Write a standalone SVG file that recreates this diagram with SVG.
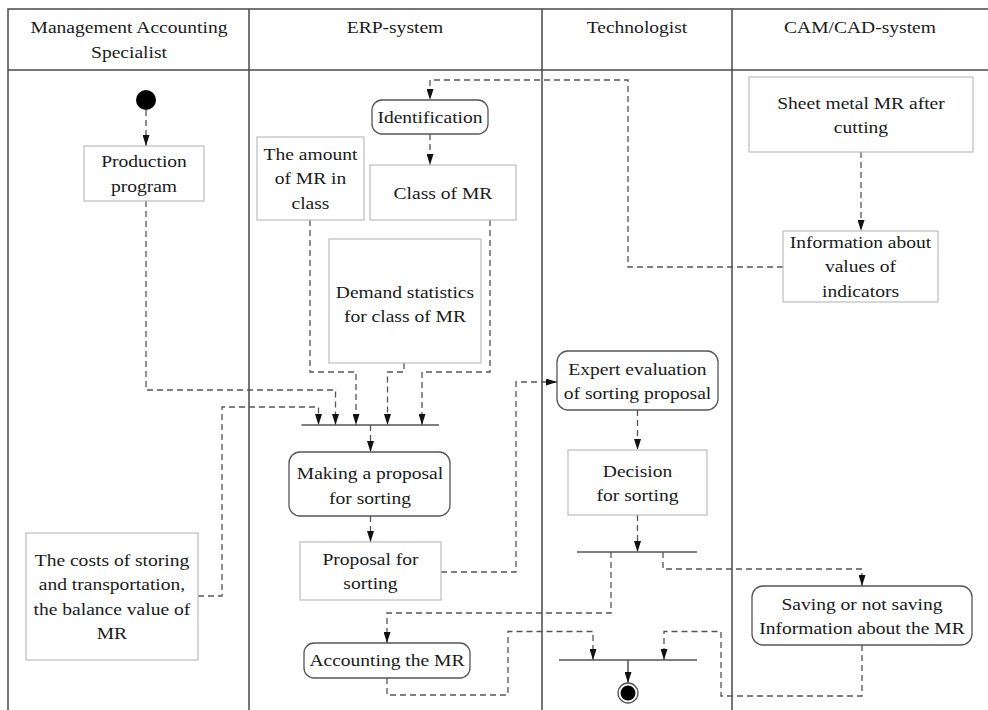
<svg xmlns="http://www.w3.org/2000/svg" width="988" height="710" viewBox="0 0 988 710">
<style>
text{font-family:"Liberation Serif","Times New Roman",serif;font-size:17px;fill:#1a1a1a;text-anchor:middle;transform-box:fill-box;transform-origin:center;transform:scaleX(1.15)}
.lane{stroke:#4a4a4a;stroke-width:1.5;fill:none}
.data{fill:#fff;stroke:#bdbdbd;stroke-width:1.2}
.act{fill:#fff;stroke:#555;stroke-width:1.3}
.dash{fill:none;stroke:#555;stroke-width:1.3;stroke-dasharray:6 4;marker-end:url(#arr)}
.dashn{fill:none;stroke:#555;stroke-width:1.3;stroke-dasharray:6 4}
.solid{fill:none;stroke:#333;stroke-width:1.3;marker-end:url(#arr)}
.bar{stroke:#555;stroke-width:1.6;fill:none}
</style>
<defs>
<marker id="arr" viewBox="0 0 11 7" refX="11" refY="3.5" markerWidth="11" markerHeight="7" markerUnits="userSpaceOnUse" orient="auto">
<path d="M0,0 L11,3.5 L0,7 z" fill="#111"/>
</marker>
</defs>
<rect width="988" height="710" fill="#fff"/>
<g id="lanes">
<path class="lane" d="M8,720 V9 H1000 M8,70 H1000 M249,9 V720 M542,9 V720 M732,9 V720"/>
<text x="129" y="33">Management Accounting</text>
<text x="129" y="58">Specialist</text>
<text x="395" y="33">ERP-system</text>
<text x="637" y="33">Technologist</text>
<text x="860" y="33">CAM/CAD-system</text>
</g>
<g id="connectors">
<path class="dash" d="M146,110 V146"/>
<path class="dash" d="M146,201 V390 H335.5 V425"/>
<path class="dash" d="M310,220 V372 H356 V425"/>
<path class="dash" d="M404,363 V372 H387.5 V425"/>
<path class="dash" d="M490,220 V372 H422 V425"/>
<path class="dash" d="M198,596 H222 V407 H318.5 V425"/>
<path class="dash" d="M370.5,425 V452"/>
<path class="dash" d="M370.5,516 V542"/>
<path class="dash" d="M441,572 H516 V382 H557"/>
<path class="dash" d="M637.5,410 V450"/>
<path class="dash" d="M637.5,515 V552"/>
<path class="dash" d="M611,552 V613 H387 V643"/>
<path class="dash" d="M663,552 V569 H862 V586"/>
<path class="dash" d="M387,678 V695 H508 V631.5 H593 V660"/>
<path class="dash" d="M862,645 V696 H721 V631.5 H664 V660"/>
<path class="solid" d="M628,660 V683"/>
<path class="dash" d="M861,152 V231"/>
<path class="dash" d="M783,267 H628 V80 H430 V100"/>
<path class="dash" d="M430,134 V165"/>
</g>
<g id="start"><circle cx="146" cy="100" r="10" fill="#000"/></g>
<g id="production-program">
<rect class="data" x="84" y="146" width="120" height="55"/>
<text x="144" y="167.5">Production</text>
<text x="144" y="192">program</text>
</g>
<g id="identification">
<rect class="act" x="372" y="100" width="116" height="34" rx="10"/>
<text x="430" y="123">Identification</text>
</g>
<g id="amount-of-mr">
<rect class="data" x="257" y="137" width="107" height="83"/>
<text x="310.5" y="160">The amount</text>
<text x="310.5" y="184.5">of MR in</text>
<text x="310.5" y="209">class</text>
</g>
<g id="class-of-mr">
<rect class="data" x="370" y="165" width="146" height="55"/>
<text x="443" y="199">Class of MR</text>
</g>
<g id="demand-statistics">
<rect class="data" x="329" y="239" width="152" height="124"/>
<text x="405" y="298">Demand statistics</text>
<text x="405" y="322.5">for class of MR</text>
</g>
<g id="sheet-metal">
<rect class="data" x="749" y="77" width="224" height="75"/>
<text x="861" y="109">Sheet metal MR after</text>
<text x="861" y="133">cutting</text>
</g>
<g id="information-values">
<rect class="data" x="783" y="231" width="155" height="71"/>
<text x="860.5" y="248.5">Information about</text>
<text x="860.5" y="272.5">values of</text>
<text x="860.5" y="297">indicators</text>
</g>
<g id="fork"><path class="bar" d="M301.5,425 H439"/></g>
<g id="making-proposal">
<rect class="act" x="289" y="452" width="161" height="64" rx="11"/>
<text x="370" y="479.5">Making a proposal</text>
<text x="370" y="504">for sorting</text>
</g>
<g id="proposal-for-sorting">
<rect class="data" x="300" y="542" width="141" height="58"/>
<text x="370.5" y="565">Proposal for</text>
<text x="370.5" y="589.5">sorting</text>
</g>
<g id="costs">
<rect class="data" x="26" y="533" width="172" height="127"/>
<text x="112" y="566">The costs of storing</text>
<text x="112" y="590.5">and transportation,</text>
<text x="112" y="615">the balance value of</text>
<text x="112" y="639.5">MR</text>
</g>
<g id="expert-evaluation">
<rect class="act" x="557" y="351" width="161" height="59" rx="11"/>
<text x="637.5" y="375">Expert evaluation</text>
<text x="637.5" y="399.5">of sorting proposal</text>
</g>
<g id="decision">
<rect class="data" x="568" y="450" width="139" height="65"/>
<text x="637.5" y="477">Decision</text>
<text x="637.5" y="501.5">for sorting</text>
</g>
<g id="tech-bar"><path class="bar" d="M577,552 H697"/></g>
<g id="accounting">
<rect class="act" x="304" y="643" width="166" height="35" rx="10"/>
<text x="387" y="666.5">Accounting the MR</text>
</g>
<g id="saving">
<rect class="act" x="752" y="586" width="220" height="59" rx="11"/>
<text x="862" y="610">Saving or not saving</text>
<text x="862" y="634">Information about the MR</text>
</g>
<g id="final-bar"><path class="bar" d="M559,660 H697"/></g>
<g id="end">
<circle cx="628" cy="693" r="10" fill="#fff" stroke="#555" stroke-width="1.3"/>
<circle cx="628" cy="693" r="7.5" fill="#000"/>
</g>
</svg>
